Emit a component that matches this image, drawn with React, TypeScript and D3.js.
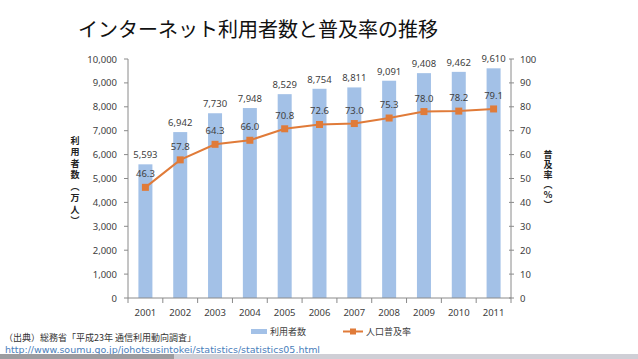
import * as d3 from 'd3';

const years = ['2001', '2002', '2003', '2004', '2005', '2006', '2007', '2008', '2009', '2010', '2011'];
const users = [5593, 6942, 7730, 7948, 8529, 8754, 8811, 9091, 9408, 9462, 9610];
const rates = [46.3, 57.8, 64.3, 66.0, 70.8, 72.6, 73.0, 75.3, 78.0, 78.2, 79.1];
const userTicks = d3.range(0, 10001, 1000);
const rateTicks = d3.range(0, 101, 10);

const title = 'インターネット利用者数と普及率の推移';
const leftTitle = '利用者数（万人）';
const rightTitle = '普及率（％）';
const source = '（出典）総務省「平成23年 通信利用動向調査」';
const link = 'http://www.soumu.go.jp/johotsusintokei/statistics/statistics05.html';

const W = 638;
const H = 359;
const left = 128;
const right = 511;
const top = 59;
const bottom = 298;

const BLUE = '#a3c1e7';
const ORANGE = '#e07b39';
const AXIS = '#8a8a8a';
const TXT = '#404040';
const NUM = 'Noto Sans, sans-serif';
const JP = 'Noto Sans CJK JP, sans-serif';

export default function App() {
    const xb = d3.scaleBand().domain(years).range([left, right]);
    const yL = d3.scaleLinear().domain([0, 10000]).range([bottom, top]);
    const yR = d3.scaleLinear().domain([0, 100]).range([bottom, top]);
    const fmt = d3.format(',');
    const cx = (i: number) => (xb(years[i]) as number) + xb.bandwidth() / 2;
    const line = d3
        .line<number>()
        .x((_, i) => cx(i))
        .y((d) => yR(d));

    return (
        <div style={{ position: 'fixed', left: 0, top: 0 }}>
            <svg width={W} height={H} style={{ display: 'block', background: '#fff' }}>
                <text x={258} y={37} textAnchor="middle" fontFamily={JP} fontSize={20} fill="#111">
                    {title}
                </text>

                {years.map((y, i) => (
                    <rect
                        key={y}
                        x={cx(i) - 7}
                        y={yL(users[i])}
                        width={14}
                        height={bottom - yL(users[i])}
                        fill={BLUE}
                    />
                ))}

                {/* left axis */}
                <line x1={left} x2={left} y1={top} y2={bottom} stroke={AXIS} />
                {userTicks.map((t) => (
                    <g key={t}>
                        <line x1={left - 4} x2={left} y1={yL(t)} y2={yL(t)} stroke={AXIS} />
                        <text x={left - 11} y={yL(t) + 3.5} textAnchor="end" fontFamily={NUM} fontSize={9.5} fill={TXT}>
                            {fmt(t)}
                        </text>
                    </g>
                ))}

                {/* right axis */}
                <line x1={right} x2={right} y1={top} y2={bottom} stroke={AXIS} />
                {rateTicks.map((t) => (
                    <g key={t}>
                        <line x1={right - 2} x2={right + 3} y1={yR(t)} y2={yR(t)} stroke={AXIS} />
                        <text x={520} y={yR(t) + 3.5} fontFamily={NUM} fontSize={9.5} fill={TXT}>
                            {t}
                        </text>
                    </g>
                ))}

                {/* x axis */}
                <line x1={left} x2={right} y1={bottom} y2={bottom} stroke={AXIS} />
                {years.map((y, i) => (
                    <g key={y}>
                        <line
                            x1={xb(y) as number}
                            x2={xb(y) as number}
                            y1={bottom}
                            y2={bottom + 5}
                            stroke={AXIS}
                        />
                        <text x={cx(i)} y={316} textAnchor="middle" fontFamily={NUM} fontSize={9.5} fill={TXT}>
                            {y}
                        </text>
                    </g>
                ))}
                <line x1={right} x2={right} y1={bottom} y2={bottom + 5} stroke={AXIS} />

                {/* bar labels */}
                {years.map((y, i) => (
                    <text
                        key={y}
                        x={cx(i)}
                        y={yL(users[i]) - 6}
                        textAnchor="middle"
                        fontFamily={NUM}
                        fontSize={9.5}
                        fill={TXT}
                    >
                        {fmt(users[i])}
                    </text>
                ))}

                {/* line */}
                <path d={line(rates) as string} fill="none" stroke={ORANGE} strokeWidth={2} />
                {rates.map((r, i) => (
                    <rect key={i} x={cx(i) - 3.5} y={yR(r) - 3.5} width={7} height={7} fill={ORANGE} />
                ))}
                {rates.map((r, i) => (
                    <text
                        key={i}
                        x={cx(i)}
                        y={yR(r) - 10}
                        textAnchor="middle"
                        fontFamily={NUM}
                        fontSize={9.5}
                        fill={TXT}
                    >
                        {r.toFixed(1)}
                    </text>
                ))}

                {/* axis titles, vertical */}
                <text
                    x={75}
                    y={136}
                    style={{ writingMode: 'vertical-rl', letterSpacing: '2.5px' }}
                    fontFamily={JP}
                    fontWeight="bold"
                    fontSize={9}
                    fill="#222"
                >
                    {leftTitle}
                </text>
                <text
                    x={548}
                    y={150}
                    style={{ writingMode: 'vertical-rl', letterSpacing: '1px' }}
                    fontFamily={JP}
                    fontWeight="bold"
                    fontSize={9}
                    fill="#222"
                >
                    {rightTitle}
                </text>

                {/* legend */}
                <rect x={251} y={329} width={16} height={5} fill={BLUE} />
                <text x={270} y={335} fontFamily={JP} fontSize={9} fill={TXT}>
                    利用者数
                </text>
                <line x1={343} x2={363} y1={331.5} y2={331.5} stroke={ORANGE} strokeWidth={2} />
                <rect x={350} y={328.5} width={6} height={6} fill={ORANGE} />
                <text x={366} y={335} fontFamily={JP} fontSize={9} fill={TXT}>
                    人口普及率
                </text>

                {/* source */}
                <text x={4} y={341} fontFamily={JP} fontSize={9} fill="#333">
                    {source}
                </text>
                <text
                    x={5}
                    y={353}
                    fontFamily="DejaVu Sans, sans-serif"
                    fontSize={9}
                    fill="#4a7ebb"
                    textDecoration="underline"
                    textLength={315}
                    lengthAdjust="spacingAndGlyphs"
                >
                    {link}
                </text>

                {/* bottom strip */}
                <rect x={0} y={354} width={W} height={5} fill="#cfcfd6" />
                <rect x={0} y={354} width={174} height={5} fill="#9c9ca0" />
            </svg>
        </div>
    );
}
